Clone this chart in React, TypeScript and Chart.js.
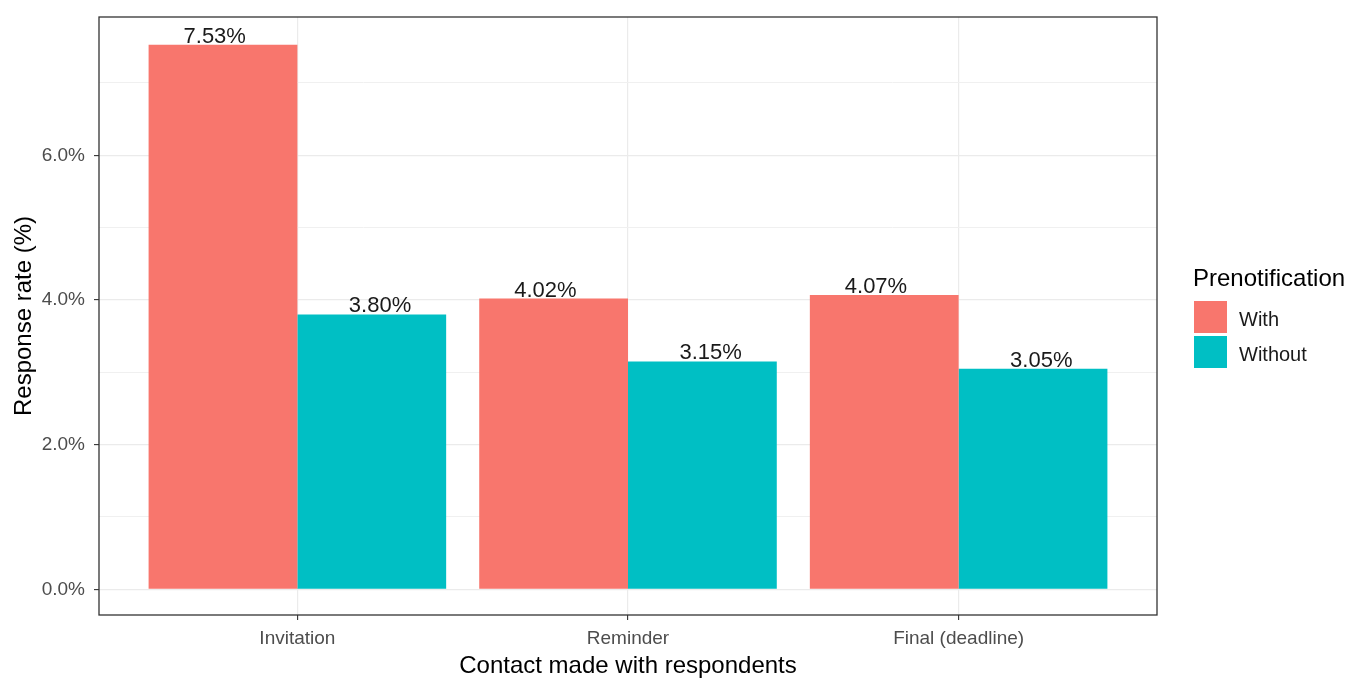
import React, { useEffect, useRef } from 'react';
import { Chart, registerables } from 'chart.js';

Chart.register(...registerables);

const categories = ['Invitation', 'Reminder', 'Final (deadline)'];
const seriesNames = ['With', 'Without'];
const withValues = [7.53, 4.02, 4.07];
const withoutValues = [3.8, 3.15, 3.05];
const yTickValues = [0, 1, 2, 3, 4, 5, 6, 7];
const yMin = -0.355;
const yMax = 7.912;
const xMin = -0.6;
const xMax = 2.6;
const labelDodge = [-0.25, 0.25];

const seriesColors = ['#F8766D', '#00BFC4'];
const FONT = "'Liberation Sans', Arial, sans-serif";

const panelBorder = {
  id: 'panelBorder',
  afterDatasetsDraw(chart: any) {
    const { ctx, chartArea: a } = chart;
    ctx.save();
    ctx.strokeStyle = '#333333';
    ctx.lineWidth = 1.3;
    ctx.strokeRect(a.left, a.top, a.right - a.left, a.bottom - a.top);
    ctx.restore();
  },
};

const valueLabels = {
  id: 'valueLabels',
  afterDatasetsDraw(chart: any) {
    const { ctx } = chart;
    const xs = chart.scales.x;
    ctx.save();
    ctx.font = `22px ${FONT}`;
    ctx.fillStyle = '#1A1A1A';
    ctx.textAlign = 'center';
    ctx.textBaseline = 'alphabetic';
    chart.data.datasets.forEach((ds: any, di: number) => {
      const meta = chart.getDatasetMeta(di);
      meta.data.forEach((el: any, i: number) => {
        const pt = ds.data[i];
        const px = xs.getPixelForValue(pt.x + labelDodge[di]);
        ctx.fillText(pt.y.toFixed(2) + '%', px, el.y - 2);
      });
    });
    ctx.restore();
  },
};

const customLegend = {
  id: 'customLegend',
  afterDraw(chart: any) {
    const { ctx } = chart;
    ctx.save();
    ctx.fillStyle = '#000000';
    ctx.textAlign = 'left';
    ctx.textBaseline = 'alphabetic';
    ctx.font = `24px ${FONT}`;
    ctx.fillText('Prenotification', 1193, 286);
    const keyTops = [301, 336];
    seriesNames.forEach((name, i) => {
      ctx.fillStyle = seriesColors[i];
      ctx.fillRect(1194, keyTops[i], 33, 32);
      ctx.fillStyle = '#1A1A1A';
      ctx.font = `20px ${FONT}`;
      ctx.fillText(name, 1239, keyTops[i] + 25);
    });
    ctx.restore();
  },
};

export default function App() {
  const canvasRef = useRef<HTMLCanvasElement | null>(null);

  useEffect(() => {
    const canvas = canvasRef.current;
    if (!canvas) return;
    const chart = new Chart(canvas, {
      type: 'bar',
      data: {
        datasets: [
          {
            label: seriesNames[0],
            data: categories.map((_, i) => ({ x: i, y: withValues[i] })),
            backgroundColor: seriesColors[0],
            borderWidth: 0,
          },
          {
            label: seriesNames[1],
            data: categories.map((_, i) => ({ x: i, y: withoutValues[i] })),
            backgroundColor: seriesColors[1],
            borderWidth: 0,
          },
        ],
      },
      options: {
        responsive: false,
        animation: false,
        devicePixelRatio: 1,
        layout: { padding: { left: 0, right: 200, top: 17, bottom: 0 } },
        datasets: {
          bar: { categoryPercentage: 0.9, barPercentage: 1.0 },
        },
        plugins: {
          legend: { display: false },
          tooltip: { enabled: false },
        },
        scales: {
          x: {
            type: 'linear',
            min: xMin,
            max: xMax,
            offset: false,
            afterBuildTicks: (scale: any) => {
              scale.ticks = categories.map((_, i) => ({ value: i }));
            },
            afterFit: (scale: any) => {
              scale.height = 63;
              scale.paddingLeft = 0;
              scale.paddingRight = 0;
            },
            border: { display: false },
            grid: {
              offset: false,
              color: '#EBEBEB',
              lineWidth: 1.2,
              tickColor: '#333333',
              tickWidth: 1.1,
              tickLength: 5,
            },
            ticks: {
              autoSkip: false,
              maxRotation: 0,
              padding: 7,
              color: '#4D4D4D',
              font: { family: FONT, size: 19 },
              callback: (v: any) => categories[Number(v)] ?? '',
            },
            title: {
              display: true,
              text: 'Contact made with respondents',
              color: '#000000',
              font: { family: FONT, size: 24, lineHeight: 1 },
              padding: { top: 0, bottom: 0 },
            },
          },
          y: {
            type: 'linear',
            min: yMin,
            max: yMax,
            afterBuildTicks: (scale: any) => {
              scale.ticks = yTickValues.map((v) => ({ value: v }));
            },
            afterFit: (scale: any) => {
              scale.width = 99;
              scale.paddingTop = 0;
              scale.paddingBottom = 0;
            },
            border: { display: false },
            grid: {
              color: (ctx: any) =>
                ctx.tick && ctx.tick.value % 2 === 0 ? '#EBEBEB' : '#F0F0F0',
              lineWidth: (ctx: any) =>
                ctx.tick && ctx.tick.value % 2 === 0 ? 1.2 : 1,
              tickColor: (ctx: any) =>
                ctx.tick && ctx.tick.value % 2 === 0 ? '#333333' : 'rgba(0,0,0,0)',
              tickWidth: 1.1,
              tickLength: 5,
            },
            ticks: {
              autoSkip: false,
              padding: 9,
              color: '#4D4D4D',
              font: { family: FONT, size: 19 },
              callback: (v: any) =>
                Number(v) % 2 === 0 ? Number(v).toFixed(1) + '%' : '',
            },
            title: {
              display: true,
              text: 'Response rate (%)',
              color: '#000000',
              font: { family: FONT, size: 24, lineHeight: 1 },
              padding: { top: 12, bottom: 0 },
            },
          },
        },
      } as any,
      plugins: [panelBorder, valueLabels, customLegend],
    });
    return () => chart.destroy();
  }, []);

  return (
    <div style={{ position: 'absolute', left: 0, top: 0, width: 1357, height: 678, background: '#FFFFFF' }}>
      <canvas ref={canvasRef} width={1357} height={678} style={{ display: 'block' }} />
    </div>
  );
}
